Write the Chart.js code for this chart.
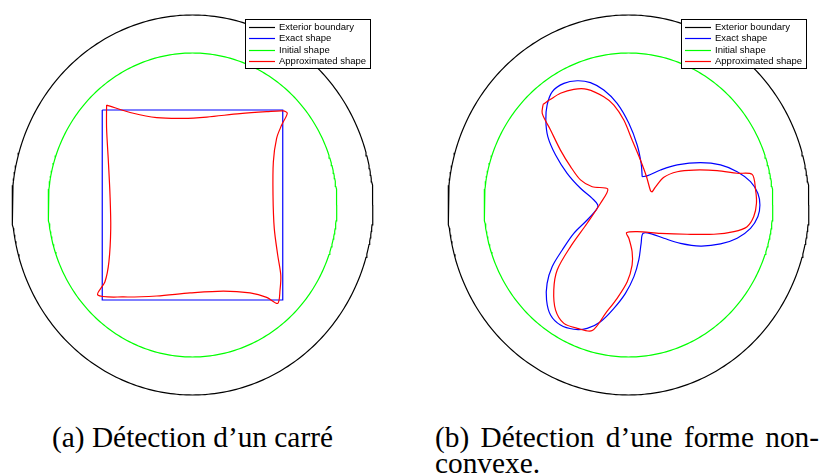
<!DOCTYPE html>
<html>
<head>
<meta charset="utf-8">
<script src="https://cdn.jsdelivr.net/npm/chart.js@4"></script>
<style>
  html, body { margin: 0; padding: 0; background: #fff; width: 820px; height: 475px; overflow: hidden; }
  .panel { position: absolute; top: 0; width: 385px; height: 410px; }
  #pa { left: 0; }
  #pb { left: 436px; }
  .cap { position: absolute; font-family: "Liberation Serif", "DejaVu Serif", serif; color: #000; line-height: 26px; white-space: nowrap; }
  #capA { left: 0; width: 385px; top: 424px; text-align: center; }
  #capB { left: 435px; width: 384px; top: 424px; white-space: normal; text-align: justify; }
</style>
</head>
<body>
<canvas id="pa" class="panel" width="385" height="410"></canvas>
<canvas id="pb" class="panel" width="385" height="410"></canvas>
<div id="capA" class="cap">(a) Détection d’un carré</div>
<div id="capB" class="cap">(b) Détection d’une forme non-convexe.</div>
<script>
// ---------- data ----------
const seriesLabels = ["Exterior boundary", "Exact shape", "Initial shape", "Approximated shape"];
const exteriorRadius = 1.0;
const initialRadius = 0.8;

// Panel (a): square
const exactA_x = [-0.5, 0.5, 0.5, -0.5, -0.5];
const exactA_y = [0.5, 0.5, -0.5, -0.5, 0.5];
const approxA_x = [-0.476, -0.328, -0.198, -0.051, 0.079, 0.263, 0.411, 0.503, 0.525,
  0.494, 0.466, 0.448, 0.446, 0.453, 0.472, 0.489, 0.485, 0.472,
  0.411, 0.319, 0.171, -0.014, -0.198, -0.383, -0.525,
  -0.485, -0.463, -0.453, -0.457, -0.466, -0.476, -0.476];
const approxA_y = [0.526, 0.483, 0.460, 0.456, 0.463, 0.481, 0.491, 0.495, 0.483,
  0.421, 0.351, 0.228, 0.053, -0.123, -0.263, -0.368, -0.447, -0.518,
  -0.486, -0.463, -0.453, -0.463, -0.479, -0.484, -0.474,
  -0.404, -0.298, -0.123, 0.053, 0.228, 0.404, 0.526];

// Panel (b): non-convex three-lobed shape
const exactB_x = [0.076, 0.103, 0.177, 0.270, 0.399, 0.510, 0.602, 0.676, 0.717, 0.728, 0.717, 0.676, 0.602, 0.510, 0.399, 0.288, 0.196, 0.131, 0.081,
  0.070, 0.057, 0.030, -0.017, -0.081, -0.155, -0.229, -0.303, -0.377, -0.432, -0.454, -0.451, -0.423, -0.367, -0.303, -0.229, -0.177, -0.170,
  -0.201, -0.266, -0.340, -0.404, -0.447, -0.458, -0.451, -0.423, -0.358, -0.284, -0.211, -0.137, -0.063, 0.002, 0.048, 0.070, 0.076];
const exactB_y = [0.149, 0.153, 0.184, 0.211, 0.223, 0.211, 0.175, 0.123, 0.061, 0.000, -0.061, -0.123, -0.175, -0.205, -0.216, -0.202, -0.175, -0.153, -0.149,
  -0.202, -0.289, -0.377, -0.465, -0.544, -0.614, -0.649, -0.654, -0.632, -0.579, -0.500, -0.412, -0.325, -0.237, -0.149, -0.079, -0.023, 0.000,
  0.035, 0.088, 0.167, 0.263, 0.360, 0.447, 0.526, 0.596, 0.640, 0.654, 0.644, 0.605, 0.535, 0.430, 0.316, 0.219, 0.149];
const approxB_x = [-0.473, -0.478, -0.432, -0.377, -0.321, -0.266, -0.201, -0.115,
  -0.155, -0.229, -0.321, -0.395, -0.414, -0.404, -0.358, -0.284, -0.201,
  -0.127, -0.063, -0.007, 0.020, 0.020, 0.002, -0.011,
  0.048, 0.177, 0.325, 0.473, 0.584, 0.657, 0.694, 0.709, 0.704, 0.685,
  0.602, 0.491, 0.362, 0.270, 0.196, 0.150, 0.131, 0.122,
  0.100, 0.066, 0.020, -0.026, -0.081, -0.137, -0.229, -0.303, -0.377, -0.432, -0.473];
const approxB_y = [0.530, 0.482, 0.395, 0.289, 0.202, 0.132, 0.096, 0.084,
  0.009, -0.096, -0.219, -0.342, -0.447, -0.553, -0.623, -0.649, -0.661,
  -0.570, -0.491, -0.404, -0.316, -0.246, -0.175, -0.146,
  -0.140, -0.149, -0.154, -0.154, -0.140, -0.114, -0.061, 0.009, 0.079, 0.161,
  0.167, 0.181, 0.184, 0.175, 0.146, 0.096, 0.070, 0.075,
  0.149, 0.237, 0.342, 0.447, 0.526, 0.570, 0.609, 0.609, 0.588, 0.556, 0.530];

// ---------- helpers ----------
function pts(xs, ys) { return xs.map((x, i) => ({ x: x, y: ys[i] })); }
function circle(r) {
  const out = [];
  for (let k = 0; k <= 360; k++) {
    const t = k * Math.PI / 180;
    out.push({ x: r * Math.cos(t), y: r * Math.sin(t) });
  }
  return out;
}

const colors = ["#000000", "#0000ff", "#00ff00", "#ff0000"];

const legendBox = {
  id: 'legendBox',
  afterDatasetsDraw(chart) {
    const ctx = chart.ctx;
    const bx = 245, by = 19, bw = 125, bh = 49;
    ctx.save();
    ctx.fillStyle = '#ffffff';
    ctx.fillRect(bx, by, bw, bh);
    ctx.strokeStyle = '#000000';
    ctx.lineWidth = 1;
    ctx.strokeRect(bx + 0.5, by + 0.5, bw, bh);
    ctx.font = '9.5px "Liberation Sans", Arial, sans-serif';
    ctx.textBaseline = 'middle';
    seriesLabels.forEach((label, i) => {
      const yy = by + 7.5 + i * 11.5;
      ctx.strokeStyle = colors[i];
      ctx.lineWidth = 1.2;
      ctx.beginPath();
      ctx.moveTo(bx + 4, Math.round(yy) + 0.5);
      ctx.lineTo(bx + 30, Math.round(yy) + 0.5);
      ctx.stroke();
      ctx.fillStyle = '#000000';
      ctx.fillText(label, bx + 34, yy + 0.5);
    });
    ctx.restore();
  }
};

function makeChart(id, exact, approx, exactTension) {
  const datasets = [
    { label: seriesLabels[0], data: circle(exteriorRadius), borderColor: colors[0], order: 3, tension: 0 },
    { label: seriesLabels[1], data: exact, borderColor: colors[1], order: 1, tension: exactTension },
    { label: seriesLabels[2], data: circle(initialRadius), borderColor: colors[2], order: 2, tension: 0 },
    { label: seriesLabels[3], data: approx, borderColor: colors[3], order: 0, tension: 0.3 }
  ].map(d => Object.assign(d, { showLine: true, pointRadius: 0, borderWidth: 1.2, fill: false }));
  return new Chart(document.getElementById(id), {
    type: 'scatter',
    data: { datasets: datasets },
    options: {
      responsive: false,
      animation: false,
      layout: { padding: 0 },
      scales: {
        x: { type: 'linear', min: -1.0665, max: 1.0665, display: false },
        y: { type: 'linear', min: -1.079, max: 1.079, display: false }
      },
      plugins: { legend: { display: false }, tooltip: { enabled: false } }
    },
    plugins: [legendBox]
  });
}

makeChart('pa', pts(exactA_x, exactA_y), pts(approxA_x, approxA_y), 0);
makeChart('pb', pts(exactB_x, exactB_y), pts(approxB_x, approxB_y), 0.35);

// caption font size fitted to the reference caption width
(function () {
  const c = document.createElement('canvas').getContext('2d');
  c.font = '20px "Liberation Serif"';
  const w = c.measureText('(a) Détection d’un carré').width;
  const size = 20 * 281 / w;
  document.getElementById('capA').style.fontSize = size + 'px';
  document.getElementById('capB').style.fontSize = size + 'px';
})();
</script>
</body>
</html>
